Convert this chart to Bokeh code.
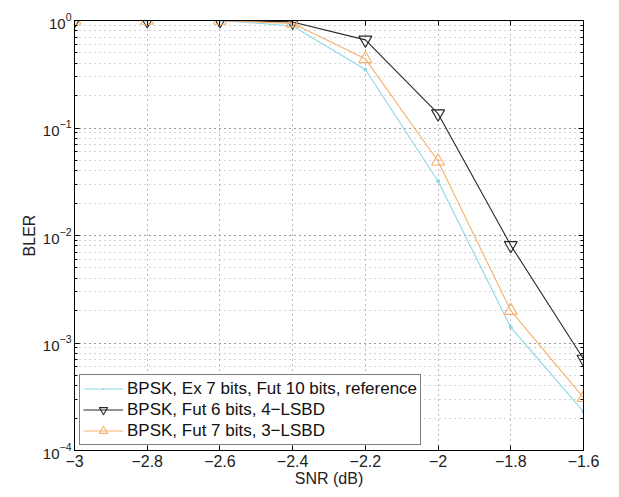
from bokeh.plotting import figure
from bokeh.models import Range1d, LinearAxis, LogAxis, FixedTicker, LogTicker, Legend, LegendItem
from bokeh.embed import file_html
from bokeh.resources import INLINE

snr = [-3.0, -2.8, -2.6, -2.4, -2.2, -2.0, -1.8, -1.6]
bler_ref = [1.0, 1.0, 1.0, 0.89, 0.35, 0.032, 0.0014, 0.00023]
bler_6b = [1.0, 1.0, 1.0, 0.97, 0.66, 0.136, 0.0081, 0.00071]
bler_7b = [1.0, 1.0, 1.0, 0.94, 0.44, 0.049, 0.0020, 0.00031]
x_ticks = [-3.0, -2.8, -2.6, -2.4, -2.2, -2.0, -1.8, -1.6]
x_labels = {-3.0: "\u22123", -2.8: "\u22122.8", -2.6: "\u22122.6", -2.4: "\u22122.4",
            -2.2: "\u22122.2", -2.0: "\u22122", -1.8: "\u22121.8", -1.6: "\u22121.6"}

FONT = "Liberation Sans"
C_REF = "#8fd6e8"
C_6B = "#262626"
C_7B = "#f6b16c"
GRID_MAJOR = "#777777"
GRID_MINOR = "#aaaaaa"

p = figure(width=619, height=497, y_axis_type="log", output_backend="svg",
           toolbar_location=None, x_range=Range1d(-3.0, -1.6), y_range=Range1d(1e-4, 1.0),
           min_border_left=74, min_border_right=36, min_border_top=20, min_border_bottom=47)
p.outline_line_color = "black"
p.outline_line_width = 1
p.background_fill_color = "white"
p.border_fill_color = "white"

# axes
xa = p.xaxis[0]
xa.ticker = FixedTicker(ticks=x_ticks)
xa.major_label_overrides = x_labels
xa.axis_label = "SNR (dB)"
ya = p.yaxis[0]
ya.ticker = LogTicker(num_minor_ticks=10)
ya.axis_label = "BLER"
for ax in (xa, ya):
    ax.major_tick_in = 5
    ax.major_tick_out = 0
    ax.minor_tick_in = 3
    ax.minor_tick_out = 0
    ax.axis_line_color = "black"
    ax.major_tick_line_color = "black"
    ax.major_label_text_font = FONT
    ax.major_label_text_font_size = "16px"
    ax.major_label_text_color = "#222222"
    ax.axis_label_text_font = FONT
    ax.axis_label_text_font_size = "16px"
    ax.axis_label_text_font_style = "normal"
    ax.axis_label_text_color = "#222222"
xa.minor_tick_line_color = None
xa.major_label_standoff = 4
xa.axis_label_standoff = 0
ya.major_label_text_font_size = "15px"
ya.major_label_standoff = 3
ya.axis_label_standoff = 2

# grids
p.xgrid.ticker = FixedTicker(ticks=x_ticks)
p.xgrid.grid_line_color = GRID_MAJOR
p.xgrid.grid_line_dash = "1 4"
p.ygrid.grid_line_color = GRID_MAJOR
p.ygrid.grid_line_dash = "1 4"
p.ygrid.minor_grid_line_color = GRID_MINOR
p.ygrid.minor_grid_line_dash = "1 4"

# top / right axes with ticks only
top = LinearAxis(ticker=FixedTicker(ticks=x_ticks), major_label_text_font_size="0px",
                 major_tick_in=5, major_tick_out=0, minor_tick_line_color=None,
                 major_label_standoff=0)
top.major_label_text_color = None
p.add_layout(top, "above")
right = LogAxis(ticker=LogTicker(num_minor_ticks=10), major_label_text_font_size="0px",
                major_tick_in=5, major_tick_out=0, minor_tick_in=3, minor_tick_out=0,
                major_label_standoff=0)
right.major_label_text_color = None
p.add_layout(right, "right")

# data
l1 = p.line(snr, bler_ref, line_color=C_REF, line_width=1.1)
m1 = p.scatter(snr, bler_ref, marker="dot", size=16, fill_color=C_REF, line_color=C_REF)
l2 = p.line(snr, bler_6b, line_color=C_6B, line_width=1.1)
m2 = p.scatter(snr, bler_6b, marker="inverted_triangle", size=13, fill_color=None, line_color=C_6B, line_width=1.1)
l3 = p.line(snr, bler_7b, line_color=C_7B, line_width=1.1)
m3 = p.scatter(snr, bler_7b, marker="triangle", size=13, fill_color=None, line_color=C_7B, line_width=1.1)

legend = Legend(items=[
    LegendItem(label="BPSK, Ex 7 bits, Fut 10 bits, reference", renderers=[l1, m1]),
    LegendItem(label="BPSK, Fut 6 bits, 4\u2212LSBD", renderers=[l2, m2]),
    LegendItem(label="BPSK, Fut 7 bits, 3\u2212LSBD", renderers=[l3, m3]),
], location="bottom_left")
legend.label_text_font = FONT
legend.label_text_font_size = "17px"
legend.label_text_color = "#111111"
legend.border_line_color = "black"
legend.border_line_width = 1
legend.margin = 5
legend.padding = 3
legend.spacing = 0
legend.glyph_width = 40
legend.glyph_height = 21
legend.label_height = 20
legend.label_standoff = 4
legend.background_fill_alpha = 1.0
p.add_layout(legend)

open("out.html", "w").write(file_html(p, INLINE))
